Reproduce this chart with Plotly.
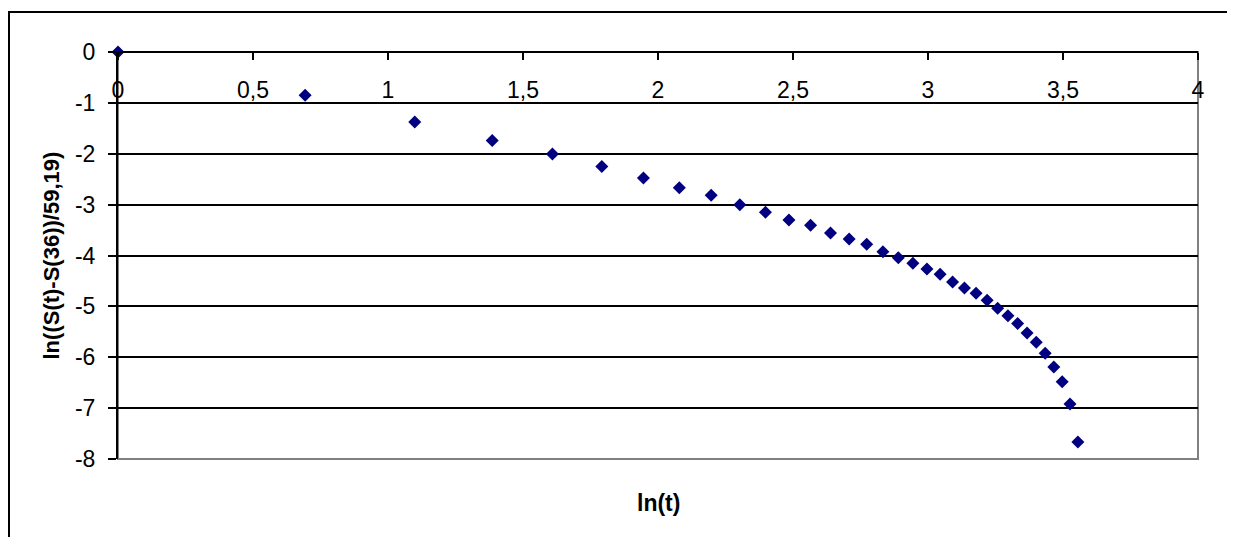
import plotly.graph_objects as go

# Data
ln_t = [0.0, 0.693, 1.099, 1.386, 1.609, 1.792, 1.946, 2.079, 2.197, 2.303,
        2.398, 2.485, 2.565, 2.639, 2.708, 2.773, 2.833, 2.890, 2.944, 2.996,
        3.045, 3.091, 3.135, 3.178, 3.219, 3.258, 3.296, 3.332, 3.367, 3.401,
        3.434, 3.466, 3.497, 3.526, 3.555]
ln_s = [0.0, -0.851, -1.375, -1.741, -2.003, -2.252, -2.475, -2.668, -2.817, -3.0,
        -3.151, -3.301, -3.406, -3.557, -3.675, -3.780, -3.924, -4.042, -4.153, -4.265,
        -4.370, -4.520, -4.638, -4.743, -4.881, -5.038, -5.182, -5.339, -5.523, -5.706,
        -5.923, -6.191, -6.480, -6.919, -7.666]

x_tickvals = [0, 0.5, 1, 1.5, 2, 2.5, 3, 3.5, 4]
x_ticktext = ["0", "0,5", "1", "1,5", "2", "2,5", "3", "3,5", "4"]
y_tickvals = [0, -1, -2, -3, -4, -5, -6, -7, -8]
y_ticktext = ["0", "-1", "-2", "-3", "-4", "-5", "-6", "-7", "-8"]

x_title = "ln(t)"
y_title = "ln((S(t)-S(36))/59,19)"

FONT = "Liberation Sans, Arial, sans-serif"

L, T, PW, PH = 110, 44, 1080, 407

fig = go.Figure()
fig.add_trace(go.Scatter(
    x=ln_t, y=ln_s, mode="markers",
    marker=dict(symbol="diamond", size=10, color="#000080", line=dict(width=0)),
    cliponaxis=False, showlegend=False,
))

fig.update_layout(
    width=1227, height=529,
    margin=dict(l=L, r=1227 - L - PW, t=T, b=529 - T - PH),
    paper_bgcolor="white", plot_bgcolor="white",
    font=dict(family=FONT, size=23, color="black"),
    xaxis=dict(
        range=[0, 4], side="bottom", anchor="free", position=1,
        tickmode="array", tickvals=x_tickvals, ticktext=x_ticktext,
        ticks="outside", ticklen=7, tickwidth=1.5, tickcolor="black",
        ticklabelstandoff=10,
        showline=True, linecolor="black", linewidth=2,
        showgrid=False, zeroline=False,
        tickfont=dict(family=FONT, size=23, color="black"),
    ),
    yaxis=dict(
        range=[-8, 0],
        tickmode="array", tickvals=y_tickvals, ticktext=y_ticktext,
        ticks="outside", ticklen=8, tickwidth=1.5, tickcolor="black",
        ticklabelstandoff=8,
        showline=True, linecolor="black", linewidth=2,
        showgrid=True, gridcolor="black", gridwidth=1.5,
        zeroline=False,
        tickfont=dict(family=FONT, size=23, color="black"),
    ),
    shapes=[
        # plot-area border (grey, visible at right and bottom)
        dict(type="rect", xref="paper", yref="paper", x0=0, x1=1, y0=0, y1=1,
             line=dict(color="#808080", width=2), layer="below"),
        # chart-area outer border
        dict(type="rect", xref="paper", yref="paper",
             x0=(1 - L) / PW, x1=(1224 - L) / PW,
             y0=-0.25, y1=1 + (T - 4) / PH,
             line=dict(color="black", width=2), layer="below"),
    ],
    annotations=[
        dict(text="<b>" + x_title + "</b>", xref="paper", yref="paper",
             x=0.5, y=-44 / PH, xanchor="center", yanchor="middle", showarrow=False,
             font=dict(family=FONT, size=23, color="black")),
        dict(text="<b>" + y_title + "</b>", xref="paper", yref="paper",
             x=-67 / PW, y=0.5, xanchor="center", yanchor="middle", showarrow=False,
             textangle=-90, font=dict(family=FONT, size=22, color="black")),
    ],
)

fig.write_html("out.html")
